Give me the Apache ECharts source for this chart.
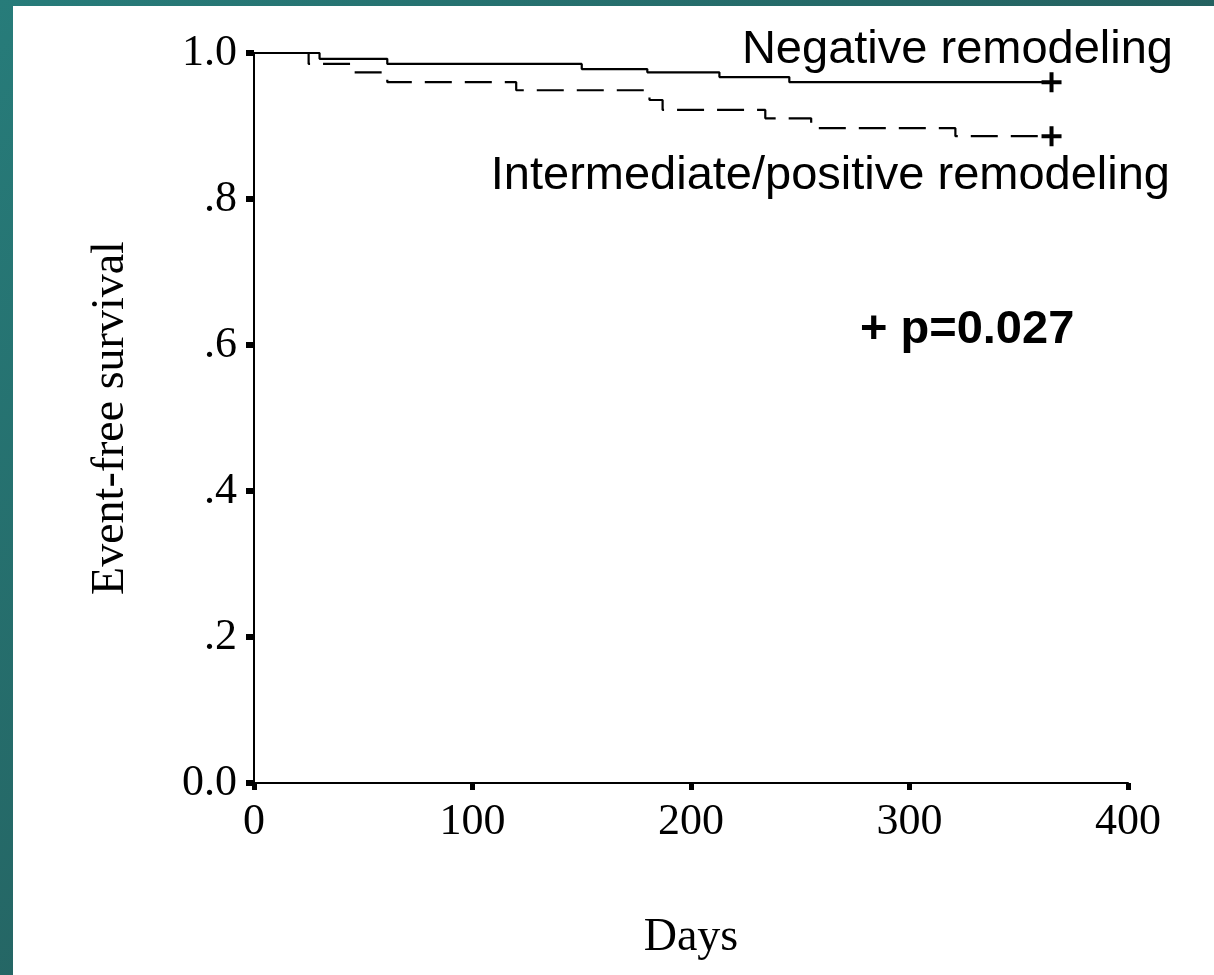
<!DOCTYPE html>
<html>
<head>
<meta charset="utf-8">
<script src="https://cdn.jsdelivr.net/npm/echarts@6/dist/echarts.min.js"></script>
<style>
html,body{margin:0;padding:0;width:1214px;height:975px;overflow:hidden;
background:linear-gradient(135deg,#277c7a 0%,#245f5e 60%,#225a58 100%);}
#chart{position:absolute;left:13px;top:6px;width:1201px;height:969px;background:#ffffff;}
</style>
</head>
<body>
<div id="chart"></div>
<script>
// Kaplan-Meier event-free survival (days)
const negTimes = [0, 30, 61, 150, 180, 213, 245, 365];
const negSurv  = [1.0, 0.992, 0.985, 0.978, 0.9735, 0.967, 0.960, 0.960];
const posTimes = [0, 25, 46, 61, 120, 181, 187, 234, 255, 321, 365];
const posSurv  = [1.0, 0.985, 0.9735, 0.960, 0.949, 0.9356, 0.922, 0.9105, 0.897, 0.886, 0.886];
const yTickLabels = {0: '0.0', 0.2: '.2', 0.4: '.4', 0.6: '.6', 0.8: '.8', 1: '1.0'};
const xTickValues = [0, 100, 200, 300, 400];
const labels = {
  neg: 'Negative remodeling',
  pos: 'Intermediate/positive remodeling',
  p: '+ p=0.027',
  xName: 'Days',
  yName: 'Event-free survival'
};

const zip = (t, s) => t.map((v, i) => [v, s[i]]);
const plusPath = 'path://M8,0H12V8H20V12H12V20H8V12H0V8H8Z';
const serif = "'Liberation Serif','Times New Roman',serif";
const sans = "'Liberation Sans',Arial,sans-serif";

const chart = echarts.init(document.getElementById('chart'), null, {renderer: 'canvas'});
chart.setOption({
  animation: false,
  backgroundColor: '#ffffff',
  grid: {left: 241, top: 47, right: 86, bottom: 192, containLabel: false},
  xAxis: {
    type: 'value', min: 0, max: 400, interval: 100,
    name: labels.xName, nameLocation: 'middle', nameGap: 132,
    nameTextStyle: {fontFamily: serif, fontSize: 46, color: '#000'},
    axisLine: {show: true, onZero: false, lineStyle: {color: '#000', width: 2}},
    axisTick: {show: true, length: 7, lineStyle: {color: '#000', width: 5}},
    axisLabel: {fontFamily: serif, fontSize: 44, color: '#000', margin: 17},
    splitLine: {show: false}
  },
  yAxis: {
    type: 'value', min: 0, max: 1, interval: 0.2,
    name: labels.yName, nameLocation: 'middle', nameGap: 120, nameRotate: 90,
    nameTextStyle: {fontFamily: serif, fontSize: 46, color: '#000'},
    axisLine: {show: true, onZero: false, lineStyle: {color: '#000', width: 2}},
    axisTick: {show: true, length: 8, lineStyle: {color: '#000', width: 6}},
    axisLabel: {fontFamily: serif, fontSize: 44, color: '#000', margin: 17,
      formatter: v => yTickLabels[Math.round(v * 10) / 10]},
    splitLine: {show: false}
  },
  series: [
    {
      name: labels.neg, type: 'line', step: 'end',
      data: zip(negTimes, negSurv),
      lineStyle: {color: '#000', width: 2.2, type: 'solid'},
      symbol: 'none',
      markPoint: {
        symbol: plusPath, symbolSize: 20, itemStyle: {color: '#000'}, label: {show: false},
        data: [{coord: [negTimes[negTimes.length - 1], negSurv[negSurv.length - 1]]}]
      },
      z: 3
    },
    {
      name: labels.pos, type: 'line', step: 'end',
      data: zip(posTimes, posSurv),
      lineStyle: {color: '#000', width: 2.2, type: [27, 13]},
      symbol: 'none',
      markPoint: {
        symbol: plusPath, symbolSize: 20, itemStyle: {color: '#000'}, label: {show: false},
        data: [{coord: [posTimes[posTimes.length - 1], posSurv[posSurv.length - 1]]}]
      },
      z: 2
    }
  ],
  graphic: [
    {type: 'text', x: 1160, y: 44, style: {text: labels.neg, font: '47px ' + sans, fill: '#000', align: 'right', verticalAlign: 'middle'}},
    {type: 'text', x: 1157, y: 170, style: {text: labels.pos, font: '47px ' + sans, fill: '#000', align: 'right', verticalAlign: 'middle'}},
    {type: 'text', x: 847, y: 324, style: {text: labels.p, font: 'bold 47px ' + sans, fill: '#000', align: 'left', verticalAlign: 'middle'}}
  ]
});
</script>
</body>
</html>
